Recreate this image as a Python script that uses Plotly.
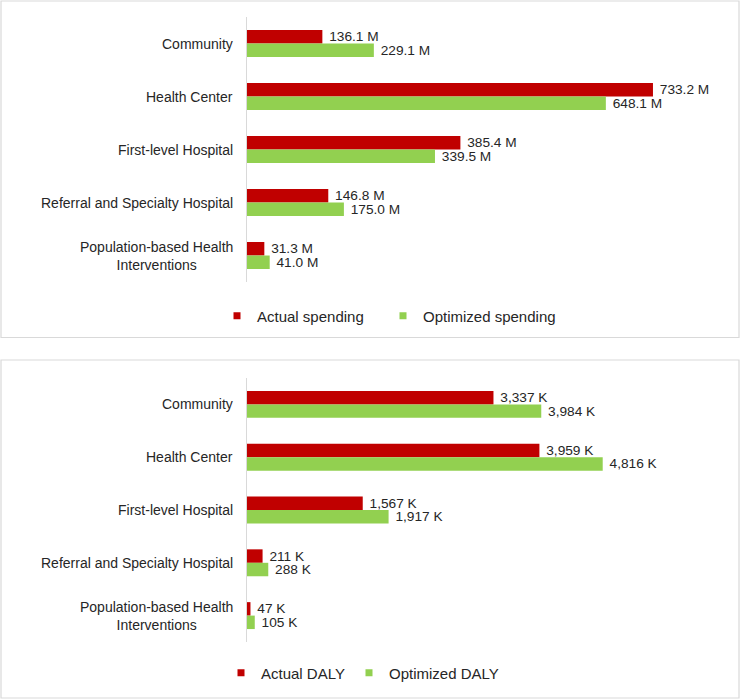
import plotly.graph_objects as go

categories = ["Community", "Health Center", "First-level Hospital",
              "Referral and Specialty Hospital",
              "Population-based Health<br>Interventions"]
actual_spending = [136.1, 733.2, 385.4, 146.8, 31.3]
optimized_spending = [229.1, 648.1, 339.5, 175.0, 41.0]
actual_daly = [3337, 3959, 1567, 211, 47]
optimized_daly = [3984, 4816, 1917, 288, 105]

RED = "#C00000"
GREEN = "#92D050"
TXT = "#262626"
FONT = "Liberation Sans, Arial, sans-serif"
W, H = 740, 699

fig = go.Figure()

def add_pair(vals_a, vals_o, name_a, name_o, xa, ya, tmpl, legends):
    for vals, nm, col in ((vals_a, name_a, RED), (vals_o, name_o, GREEN)):
        fig.add_trace(go.Bar(y=categories, x=vals, orientation="h", name=nm,
                             marker=dict(color=col, line=dict(width=0)),
                             texttemplate=tmpl, textposition="outside",
                             constraintext="none",
                             textfont=dict(size=13.7, color=TXT, family=FONT),
                             cliponaxis=False, xaxis=xa, yaxis=ya, showlegend=False))
    # legend entries with small square symbols
    for nm, col, lg in ((name_a, RED, legends[0]), (name_o, GREEN, legends[1])):
        fig.add_trace(go.Scatter(x=[None], y=[None], mode="markers", name=nm,
                                 marker=dict(symbol="square", size=7, color=col),
                                 xaxis=xa, yaxis=ya, legend=lg, showlegend=True))

add_pair(actual_spending, optimized_spending, "Actual spending", "Optimized spending",
         "x", "y", " %{x:.1f} M", ("legend", "legend2"))
add_pair(actual_daly, optimized_daly, "Actual DALY", "Optimized DALY",
         "x2", "y2", " %{x:,.0f} K", ("legend3", "legend4"))

xdom = [247 / W, 720 / W]
top_dom = [1 - 282 / H, 1 - 17 / H]
bot_dom = [1 - 642 / H, 1 - 378 / H]

axis_x = dict(domain=xdom, showgrid=False, zeroline=False, showline=False,
              showticklabels=False, ticks="", fixedrange=True)
axis_y = dict(showgrid=False, zeroline=False, showline=True, linecolor="#D9D9D9",
              linewidth=1, showticklabels=False, ticks="", autorange=False,
              range=[4.5, -0.5], type="category", fixedrange=True)

def leg(xpx, ypx):
    return dict(orientation="h", x=xpx / W, y=1 - ypx / H, xanchor="left", yanchor="middle",
                font=dict(size=15, color=TXT, family=FONT), bgcolor="rgba(0,0,0,0)")

fig.update_layout(
    width=W, height=H, margin=dict(l=0, r=0, t=0, b=0),
    paper_bgcolor="white", plot_bgcolor="white",
    barmode="group", bargap=0.49, bargroupgap=0,
    font=dict(family=FONT, size=14, color=TXT),
    xaxis=dict(axis_x, range=[0, 473 / 0.5537], anchor="y"),
    yaxis=dict(axis_y, domain=top_dom, anchor="x"),
    xaxis2=dict(axis_x, range=[0, 473 / 0.07386], anchor="y2"),
    yaxis2=dict(axis_y, domain=bot_dom, anchor="x2"),
    legend=leg(217, 316),
    legend2=leg(383, 316),
    legend3=leg(221, 673),
    legend4=leg(349, 673),
    shapes=[
        dict(type="rect", xref="paper", yref="paper", x0=1 / W, x1=739 / W,
             y0=1 - 337.5 / H, y1=1 - 1 / H, line=dict(color="#D9D9D9", width=1.2)),
        dict(type="rect", xref="paper", yref="paper", x0=1 / W, x1=739 / W,
             y0=1 - 698 / H, y1=1 - 360 / H, line=dict(color="#D9D9D9", width=1.2)),
    ],
)

# category labels (centered multi-line, right-aligned block next to the axis)
for ya in ("y", "y2"):
    for c in categories:
        fig.add_annotation(x=235 / W, xref="paper", y=c, yref=ya, text=c,
                           xanchor="right", yanchor="middle", align="center",
                           showarrow=False, font=dict(size=14, color=TXT, family=FONT))

fig.write_html("out.html", config={"displayModeBar": False},
               post_script="document.body.style.margin='0';document.body.style.overflow='hidden';")
